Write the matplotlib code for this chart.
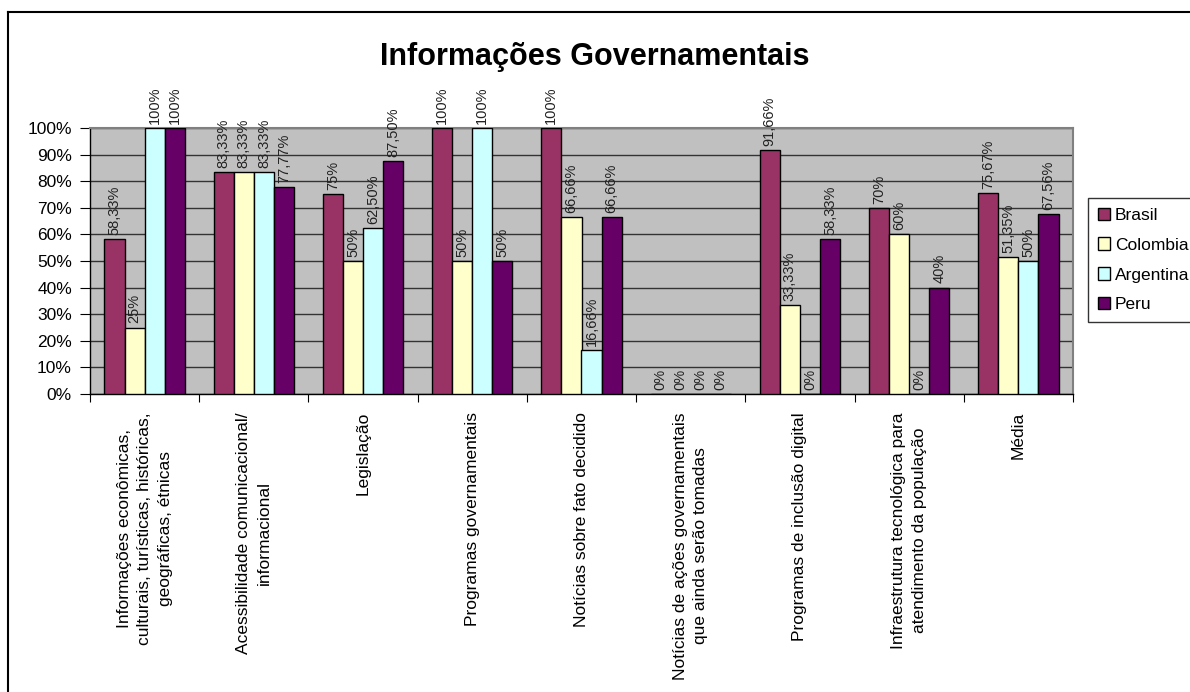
import numpy as np
import matplotlib
matplotlib.use('Agg')
import matplotlib.pyplot as plt
from matplotlib.lines import Line2D
from matplotlib.patches import Patch

plt.rcParams['font.family'] = ['Liberation Sans', 'DejaVu Sans']

categories = [
    'Informações econômicas,\nculturais, turísticas, históricas,\ngeográficas, étnicas',
    'Acessibilidade comunicacional/\ninformacional',
    'Legislação',
    'Programas governamentais',
    'Notícias sobre fato decidido',
    'Notícias de ações governamentais\nque ainda serão tomadas',
    'Programas de inclusão digital',
    'Infraestrutura tecnológica para\natendimento da população',
    'Média',
]
series_names = ['Brasil', 'Colombia', 'Argentina', 'Peru']
brasil = [58.33, 83.33, 75, 100, 100, 0, 91.66, 70, 75.67]
colombia = [25, 83.33, 50, 50, 66.66, 0, 33.33, 60, 51.35]
argentina = [100, 83.33, 62.5, 100, 16.66, 0, 0, 0, 50]
peru = [100, 77.77, 87.5, 50, 66.66, 0, 58.33, 40, 67.56]
colors = ['#993366', '#FFFFCC', '#CCFFFF', '#660066']


def fmt(v):
    if float(v).is_integer():
        return '%d%%' % v
    return ('%.2f%%' % v).replace('.', ',')


fig = plt.figure(figsize=(11.9, 6.92), dpi=100)
ax = fig.add_axes([90 / 1190, 1 - 394 / 692, 983 / 1190, 266 / 692])
ax.set_facecolor('#C0C0C0')

x = np.arange(len(categories))
w = 0.184
for j, (name, vals) in enumerate(zip(series_names, [brasil, colombia, argentina, peru])):
    pos = x + (j - 1.5) * w
    ax.bar(pos, vals, width=w, color=colors[j], edgecolor='black', linewidth=1, label=name, zorder=3)
    for px, v in zip(pos, vals):
        ax.annotate(fmt(v), (px, v), xytext=(0, 3), textcoords='offset points',
                    rotation=90, ha='center', va='bottom', fontsize=10.5,
                    color='#222222')

ax.set_xlim(-0.5, len(categories) - 0.5)
ax.set_ylim(0, 100)
ax.set_yticks(np.arange(0, 101, 10))
ax.set_yticklabels(['%d%%' % t for t in range(0, 101, 10)], fontsize=12.5)
ax.yaxis.grid(True, color='#333333', linewidth=1, zorder=1)
ax.set_axisbelow(True)

ax.set_xticks(np.arange(-0.5, len(categories)), labels=[''] * (len(categories) + 1))
ax.set_xticks(x, minor=True)
ax.set_xticklabels(categories, minor=True, rotation=90, ha='center', va='top', fontsize=12.5)
for lab in ax.get_xticklabels(minor=True):
    lab.set_multialignment('center')
    lab.set_linespacing(1.45)
ax.tick_params(axis='x', which='minor', length=0, pad=13)
ax.tick_params(axis='x', which='major', direction='out', length=6, color='black')
ax.tick_params(axis='y', direction='out', length=7, color='black', pad=6)

for s in ['top', 'right']:
    ax.spines[s].set_color('#808080')
    ax.spines[s].set_linewidth(1.5)
for s in ['left', 'bottom']:
    ax.spines[s].set_color('black')
    ax.spines[s].set_linewidth(1)

fig.text(595 / 1190, 1 - 57 / 692, 'Informações Governamentais', ha='center', va='center',
         fontsize=22, fontweight='bold')

handles = [Patch(facecolor=c, edgecolor='black', linewidth=1) for c in colors]
leg = fig.legend(handles, series_names, loc='upper left',
                 bbox_to_anchor=(1088 / 1190, 1 - 198 / 692), fontsize=12.5,
                 frameon=True, fancybox=False, edgecolor='black', handlelength=0.7,
                 handleheight=0.7, handletextpad=0.3, labelspacing=0.85, borderpad=0.55,
                 borderaxespad=0)
leg.get_frame().set_linewidth(1)

fig.add_artist(Line2D([8 / 1190, 8 / 1190], [0, 1 - 12 / 692], transform=fig.transFigure,
                      color='black', linewidth=1.5))
fig.add_artist(Line2D([8 / 1190, 1], [1 - 12 / 692, 1 - 12 / 692], transform=fig.transFigure,
                      color='black', linewidth=1.5))

fig.savefig('out.png', dpi=100)
